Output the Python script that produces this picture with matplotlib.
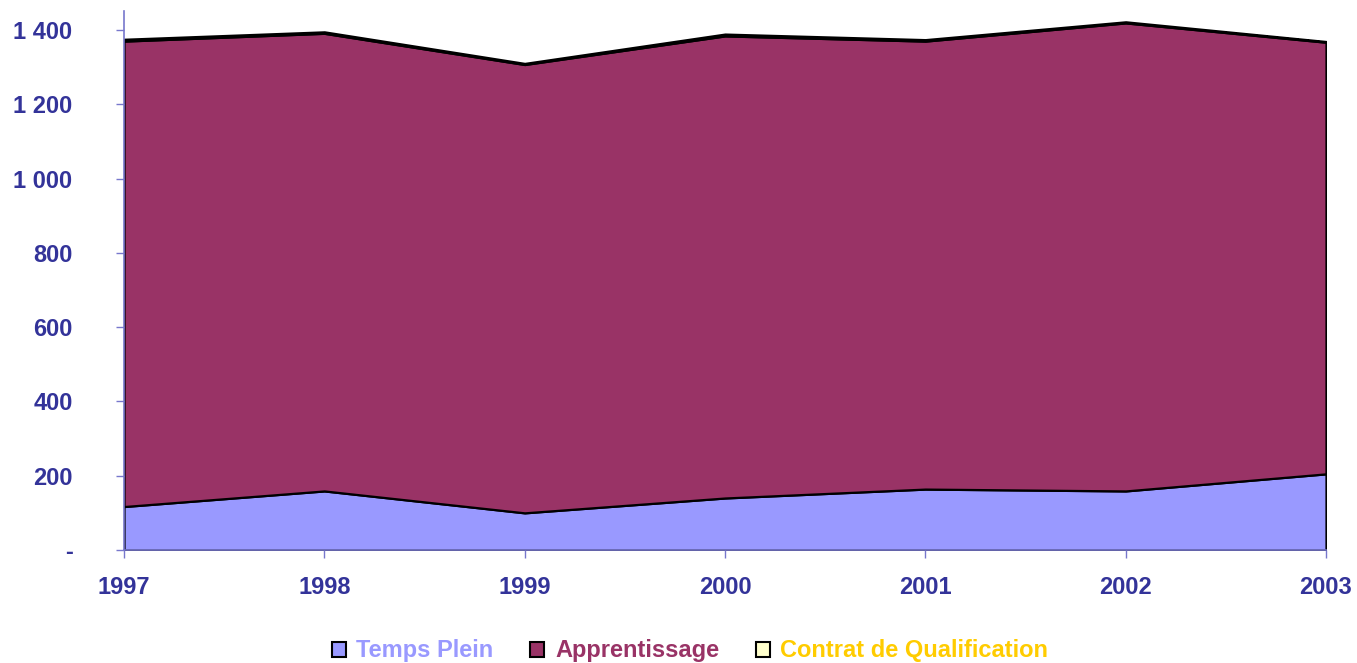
import matplotlib
matplotlib.use("Agg")
import matplotlib.pyplot as plt
from matplotlib.patches import Patch
from matplotlib.ticker import FuncFormatter

years = [1997, 1998, 1999, 2000, 2001, 2002, 2003]
temps_plein = [117, 159, 100, 140, 164, 159, 205]
apprentissage = [1253, 1232, 1207, 1244, 1206, 1260, 1162]
contrat_qualif = [5, 4, 3, 5, 4, 3, 2]

series_names = ["Temps Plein", "Apprentissage", "Contrat de Qualification"]
fill_colors = ["#9999FF", "#993366", "#FFFFCC"]
legend_text_colors = ["#9999FF", "#993366", "#FFCC00"]
yticks = [0, 200, 400, 600, 800, 1000, 1200, 1400]

plt.rcParams['font.family'] = ['Liberation Sans', 'DejaVu Sans']

W, H = 1357, 663
fig = plt.figure(figsize=(W / 100, H / 100), dpi=100)
left, right = 124 / W, 1326 / W
bottom, top = 1 - 550 / H, 1 - 11.4 / H
ax = fig.add_axes([left, bottom, right - left, top - bottom])

ax.stackplot(years, temps_plein, apprentissage, contrat_qualif,
             colors=fill_colors, edgecolor="black", linewidth=1.6)

ax.set_xlim(years[0], years[-1])
ax.set_ylim(0, 1450)
ax.set_xticks(years)
ax.set_yticks(yticks)

def fmt(v, pos):
    if v == 0:
        return "-"
    return f"{int(v):,}".replace(",", " ")

ax.yaxis.set_major_formatter(FuncFormatter(fmt))

axis_color = "#7777CC"
text_color = "#333399"
for s in ["top", "right"]:
    ax.spines[s].set_visible(False)
for s in ["left", "bottom"]:
    ax.spines[s].set_color(axis_color)
    ax.spines[s].set_linewidth(1.2)
    ax.spines[s].set_zorder(5)

ax.tick_params(axis="y", direction="out", length=6, width=1, color=axis_color,
               labelsize=17, labelcolor=text_color, pad=31)
ax.tick_params(axis="x", direction="out", length=6, width=1, color=axis_color,
               labelsize=17, labelcolor=text_color, pad=13)
for lab in ax.get_xticklabels() + ax.get_yticklabels():
    lab.set_fontweight("bold")

handles = [Patch(facecolor=c, edgecolor="black", linewidth=1.5) for c in fill_colors]
leg = fig.legend(handles, series_names, loc="center", bbox_to_anchor=(690 / W, 1 - 651 / H),
                 ncol=3, frameon=False, handlelength=0.6, handleheight=0.6,
                 handletextpad=0.45, columnspacing=1.55,
                 prop={"weight": "bold", "size": 17})
for t, c in zip(leg.get_texts(), legend_text_colors):
    t.set_color(c)

fig.savefig("out.png", dpi=100)
